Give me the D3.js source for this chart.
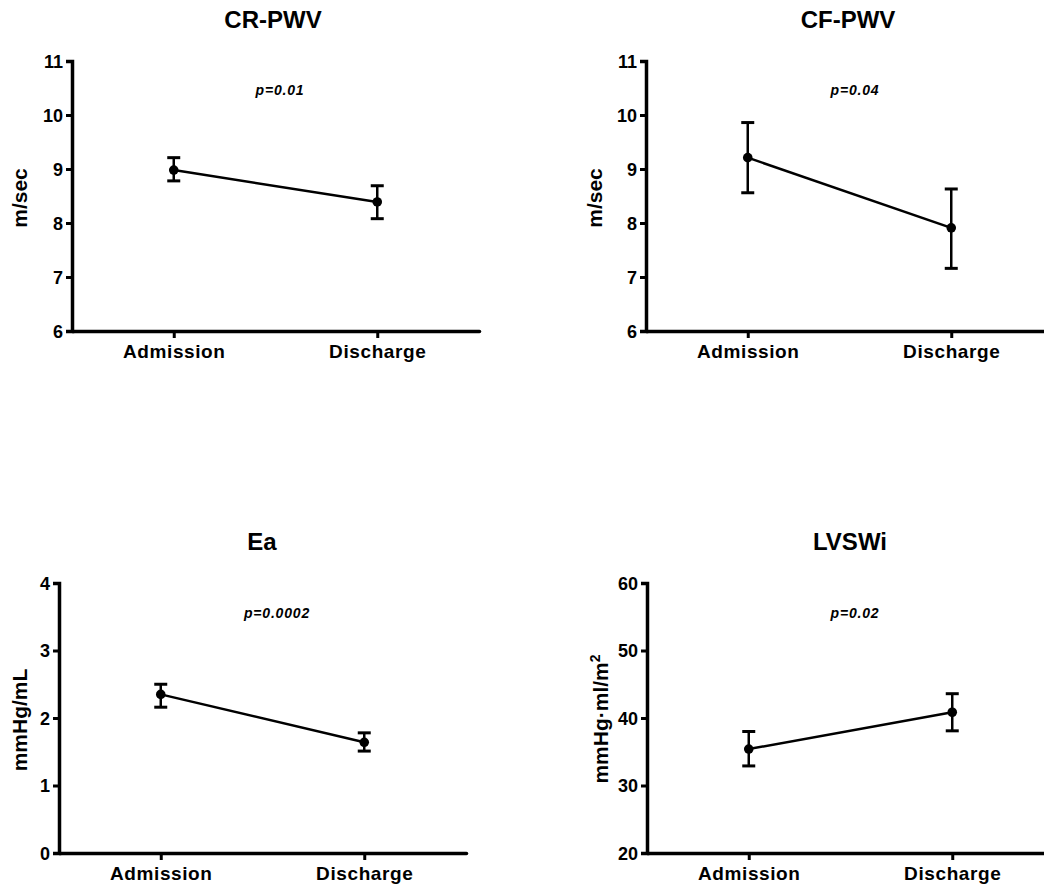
<!DOCTYPE html>
<html>
<head>
<meta charset="utf-8">
<script src="https://d3js.org/d3.v7.min.js"></script>
<style>
  body { margin: 0; background: #fff; }
  text { font-family: "Liberation Sans", Arial, sans-serif; font-weight: bold; fill: #000; }
</style>
</head>
<body>
<svg width="1044" height="886"></svg>
<script>
// data
var categories = ["Admission", "Discharge"];

var crMean = [8.98, 8.39], crLow = [8.78, 8.08], crHigh = [9.21, 8.69];
var cfMean = [9.21, 7.91], cfLow = [8.56, 7.16], cfHigh = [9.86, 8.63];
var eaMean = [2.35, 1.64], eaLow = [2.16, 1.51], eaHigh = [2.50, 1.78];
var lvMean = [35.4, 40.85], lvLow = [32.9, 38.1], lvHigh = [38.0, 43.6];

var crTicks = [6, 7, 8, 9, 10, 11];
var cfTicks = [6, 7, 8, 9, 10, 11];
var eaTicks = [0, 1, 2, 3, 4];
var lvTicks = [20, 30, 40, 50, 60];

var titles = ["CR-PWV", "CF-PWV", "Ea", "LVSWi"];
var pValues = ["p=0.01", "p=0.04", "p=0.0002", "p=0.02"];

var svg = d3.select("svg");

function panel(opt) {
  var g = svg.append("g");
  var x = d3.scalePoint().domain(categories).range([opt.x0, opt.x0 + 407]).padding(0.5);
  var y = d3.scaleLinear().domain([opt.ticks[0], opt.ticks[opt.ticks.length - 1]]).range([opt.yBot, opt.yTop]);

  // x axis
  var xa = g.append("g")
    .attr("transform", "translate(0," + opt.yBot + ")")
    .call(d3.axisBottom(x).tickSize(7).tickSizeOuter(0));
  xa.select(".domain").attr("stroke-width", 3.5).attr("stroke-linecap", "round");
  xa.selectAll(".tick line").attr("stroke-width", 3);
  xa.selectAll("text").attr("y", 27).attr("dy", 0)
    .style("font-size", "19px").style("letter-spacing", "0.6px");

  // y axis
  var ya = g.append("g")
    .attr("transform", "translate(" + opt.x0 + ",0)")
    .call(d3.axisLeft(y).tickValues(opt.ticks).tickFormat(d3.format("d")).tickSize(6).tickPadding(3));
  ya.select(".domain").attr("stroke-width", 3.5).attr("stroke-linejoin", "miter");
  ya.selectAll(".tick line").attr("stroke-width", 3);
  ya.selectAll("text").style("font-size", "18px").attr("dy", "0.36em");
  ya.selectAll(".domain, .tick line").attr("stroke", "#000");

  // connecting line
  var pts = categories.map(function (c, i) { return [x(c), y(opt.mean[i])]; });
  g.append("path")
    .attr("d", d3.line()(pts))
    .attr("fill", "none")
    .attr("stroke", "#000")
    .attr("stroke-width", 2.5);

  // error bars
  categories.forEach(function (c, i) {
    var cx = x(c);
    g.append("line").attr("x1", cx).attr("x2", cx)
      .attr("y1", y(opt.low[i])).attr("y2", y(opt.high[i]))
      .attr("stroke", "#000").attr("stroke-width", 2.5);
    [opt.low[i], opt.high[i]].forEach(function (v) {
      g.append("line").attr("x1", cx - 6.5).attr("x2", cx + 6.5)
        .attr("y1", y(v)).attr("y2", y(v))
        .attr("stroke", "#000").attr("stroke-width", 3);
    });
    g.append("circle").attr("cx", cx).attr("cy", y(opt.mean[i]))
      .attr("r", 4.8).attr("fill", "#000");
  });

  // title
  g.append("text")
    .attr("x", opt.titleX).attr("y", opt.titleY)
    .attr("text-anchor", "middle")
    .style("font-size", "24px")
    .text(opt.title);

  // p value
  g.append("text")
    .attr("x", opt.pX).attr("y", opt.pY)
    .attr("text-anchor", "middle")
    .style("font-size", "14px").style("font-style", "italic").style("letter-spacing", "0.8px")
    .text(opt.p);

  // y label
  var yl = g.append("text")
    .attr("text-anchor", "middle")
    .attr("transform", "translate(" + opt.labX + "," + opt.labY + ")rotate(-90)")
    .style("font-size", "21px");
  if (opt.sup) {
    yl.append("tspan").text(opt.label);
    yl.append("tspan").attr("dy", "-0.6em").style("font-size", "14px").text(opt.sup);
  } else {
    yl.text(opt.label);
  }
}

panel({ x0: 72, yTop: 61, yBot: 331, ticks: crTicks, mean: crMean, low: crLow, high: crHigh,
  title: titles[0], titleX: 273, titleY: 28, p: pValues[0], pX: 280, pY: 95,
  label: "m/sec", labX: 27, labY: 198 });
panel({ x0: 646, yTop: 61, yBot: 331, ticks: cfTicks, mean: cfMean, low: cfLow, high: cfHigh,
  title: titles[1], titleX: 848, titleY: 28, p: pValues[1], pX: 855, pY: 95,
  label: "m/sec", labX: 602, labY: 198 });
panel({ x0: 59, yTop: 583, yBot: 853, ticks: eaTicks, mean: eaMean, low: eaLow, high: eaHigh,
  title: titles[2], titleX: 262, titleY: 550, p: pValues[2], pX: 277, pY: 618,
  label: "mmHg/mL", labX: 27, labY: 720 });
panel({ x0: 647, yTop: 583, yBot: 853, ticks: lvTicks, mean: lvMean, low: lvLow, high: lvHigh,
  title: titles[3], titleX: 850, titleY: 550, p: pValues[3], pX: 855, pY: 618,
  label: "mmHg\u00b7ml/m", sup: "2", labX: 608, labY: 719 });
</script>
</body>
</html>
